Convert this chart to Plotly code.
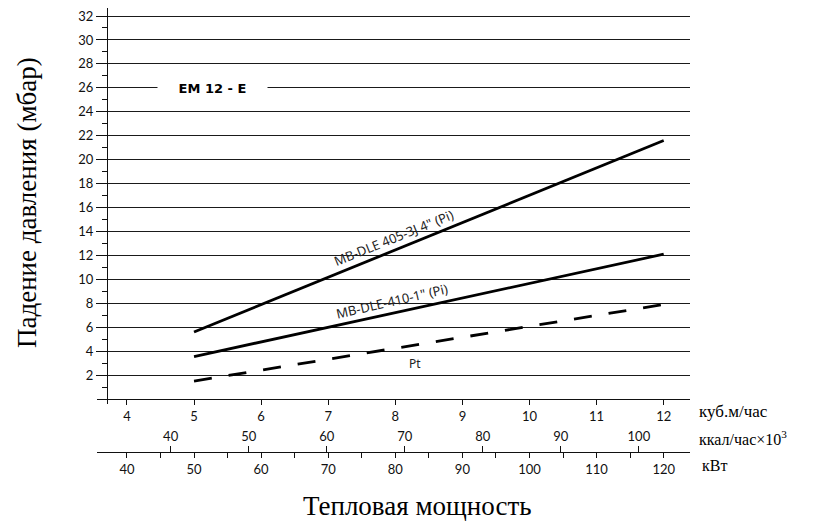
import plotly.graph_objects as go

# ---- data ----
flow_m3 = [5, 12]                 # куб.м/час
dp_405 = [5.6, 21.6]              # MB-DLE 405 (Pi), мбар
dp_410 = [3.55, 12.1]             # MB-DLE 410 (Pi), мбар
dp_pt = [1.5, 7.9]                # Pt, мбар

y_ticks = list(range(2, 33, 2))
y_minor = list(range(1, 32, 2))
m3_ticks = list(range(4, 13))
kcal_ticks = list(range(40, 101, 10))
kw_ticks = list(range(40, 121, 10))
kw_minor = list(range(45, 121, 10))

KW_PER_M3 = 10.0      # кВт per куб.м/час
KW_PER_KCAL = 1.163   # кВт per ккал/час×10^3

x_range = [3.554, 12.392]
y_range = [-0.418, 32.67]
kw_range = [v * KW_PER_M3 for v in x_range]
kcal_range = [v * KW_PER_M3 / KW_PER_KCAL for v in x_range]

flow_kw = [v * KW_PER_M3 for v in flow_m3]
flow_kcal = [v * KW_PER_M3 / KW_PER_KCAL for v in flow_m3]

tick_font = dict(family="Lato", size=13, color="#111")
label_font = dict(family="Noto Sans", size=13, color="#222")
serif = dict(family="Liberation Serif", color="#000")

fig = go.Figure()
fig.add_trace(go.Scatter(x=flow_m3, y=dp_405, mode="lines",
                         line=dict(color="#000", width=2.8), hoverinfo="skip"))
fig.add_trace(go.Scatter(x=flow_m3, y=dp_410, mode="lines",
                         line=dict(color="#000", width=2.8), hoverinfo="skip"))
fig.add_trace(go.Scatter(x=flow_m3, y=dp_pt, mode="lines",
                         line=dict(color="#000", width=2.8, dash="18px,17px"),
                         hoverinfo="skip"))
# same Pt curve expressed on the kW and kcal scales (not drawn) so those axes render
fig.add_trace(go.Scatter(x=flow_kw, y=dp_pt, mode="none", xaxis="x2", yaxis="y",
                         hoverinfo="skip"))
fig.add_trace(go.Scatter(x=flow_kcal, y=dp_pt, mode="none", xaxis="x3", yaxis="y",
                         hoverinfo="skip"))

axis_line = dict(showline=True, linecolor="#111", linewidth=1.3, zeroline=False,
                 tickcolor="#111", tickwidth=1.3)

fig.update_layout(
    width=826, height=528,
    margin=dict(l=89, r=144, t=0, b=58),
    plot_bgcolor="white", paper_bgcolor="white",
    showlegend=False,
    xaxis=dict(domain=[0, 1], range=x_range, anchor="free", position=0.1681,
               ticks="outside", ticklen=5, tickmode="array", tickvals=m3_ticks,
               showgrid=False, tickfont=tick_font, **axis_line),
    xaxis2=dict(overlaying="x", range=kw_range, anchor="free", position=0.0553,
                side="bottom", ticks="outside", ticklen=5, tickmode="array",
                tickvals=kw_ticks, showgrid=False, tickfont=tick_font,
                minor=dict(tickmode="array", tickvals=kw_minor, ticks="outside",
                           ticklen=5, tickcolor="#111", tickwidth=1.3, showgrid=False),
                **axis_line),
    xaxis3=dict(overlaying="x", range=kcal_range, anchor="free", position=0.0553,
                side="top", ticks="outside", ticklen=6, tickmode="array",
                tickvals=kcal_ticks, showgrid=False, showline=False, zeroline=False,
                tickcolor="#111", tickwidth=1.3, tickfont=tick_font),
    yaxis=dict(domain=[0.1574, 1], range=y_range, anchor="free", position=0.01686,
               ticks="outside", ticklen=11, tickmode="array", tickvals=y_ticks,
               showgrid=True, gridcolor="#1a1a1a", gridwidth=1.2,
               ticklabeloverflow="allow",
               minor=dict(tickmode="array", tickvals=y_minor, ticks="outside",
                          ticklen=5, tickcolor="#111", tickwidth=1.3, showgrid=False),
               tickfont=tick_font, **axis_line),
)

ann = []
ann.append(dict(x=5.27, y=26, xref="x", yref="y", text="<b>EM 12 - E</b>",
                showarrow=False, bgcolor="white", width=107, height=16,
                xanchor="center", yanchor="middle",
                font=dict(family="DejaVu Sans", size=13, color="#000")))
ann.append(dict(x=7.966, y=13.45, xref="x", yref="y", text='MB-DLE 405-3J 4" (Pi)',
                showarrow=False, textangle=-22, xanchor="center", yanchor="middle",
                font=label_font))
ann.append(dict(x=7.95, y=8.19, xref="x", yref="y", text='MB-DLE-410-1" (Pi)',
                showarrow=False, textangle=-13, xanchor="center", yanchor="middle",
                font=label_font))
ann.append(dict(x=8.29, y=3.0, xref="x", yref="y", text="Pt",
                showarrow=False, xanchor="center", yanchor="middle",
                font=dict(family="Noto Sans", size=12, color="#222")))
ann.append(dict(x=1.0118, y=0.1425, xref="paper", yref="paper", text="куб.м/час",
                showarrow=False, xanchor="left", yanchor="middle",
                font=dict(size=17, **serif)))
ann.append(dict(x=1.0118, y=0.0857, xref="paper", yref="paper",
                text="ккал/час×10<sup>3</sup>",
                showarrow=False, xanchor="left", yanchor="middle",
                font=dict(size=16, **serif)))
ann.append(dict(x=1.017, y=0.026, xref="paper", yref="paper", text="кВт",
                showarrow=False, xanchor="left", yanchor="middle",
                font=dict(size=16, **serif)))
ann.append(dict(x=0.541, y=-0.0596, xref="paper", yref="paper",
                text="Тепловая мощность", showarrow=False,
                xanchor="center", yanchor="middle",
                font=dict(size=27, **serif)))
ann.append(dict(x=-0.118, y=0.585, xref="paper", yref="paper",
                text="Падение давления (мбар)", showarrow=False, textangle=-90,
                xanchor="center", yanchor="middle",
                font=dict(size=27, **serif)))
fig.update_layout(annotations=ann)

fig.write_html("out.html")
